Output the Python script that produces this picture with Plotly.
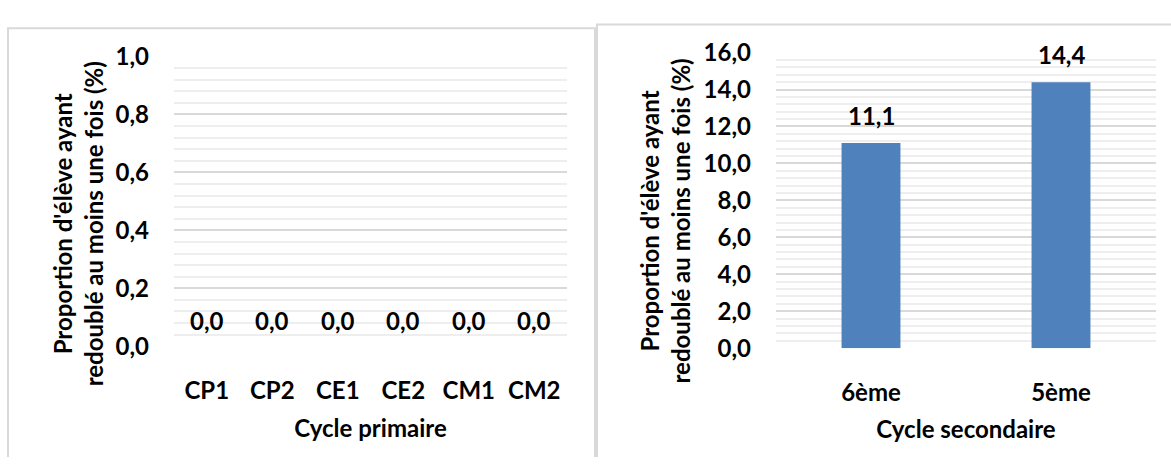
import plotly.graph_objects as go

# Data
primaire_classes = ["CP1", "CP2", "CE1", "CE2", "CM1", "CM2"]
primaire_values = [0.0, 0.0, 0.0, 0.0, 0.0, 0.0]

secondaire_classes = ["6ème", "5ème"]
secondaire_values = [11.1, 14.4]

y_title_lines = ["Proportion d'élève ayant", "redoublé au moins une fois (%)"]
x_title_primaire = "Cycle primaire"
x_title_secondaire = "Cycle secondaire"

W, H = 1171, 470
FONT = "Lato"
BLUE = "#4f81bd"
MAJOR = "#d9d9d9"
MINOR = "#eeeeee"
SIZE = 24


def px_x(v):
    return v / W


def px_y(v):
    return 1 - v / H


def fmt(v):
    return f"{v:.1f}".replace(".", ",")


text_font = dict(family=FONT, size=SIZE, color="#000000", weight="bold")

fig = go.Figure()

fig.add_trace(go.Bar(
    x=primaire_classes, y=primaire_values,
    marker=dict(color=BLUE, line=dict(width=0)),
    xaxis="x", yaxis="y", showlegend=False, hoverinfo="skip",
))
fig.add_trace(go.Bar(
    x=secondaire_classes, y=secondaire_values,
    marker=dict(color=BLUE, line=dict(width=0)),
    xaxis="x2", yaxis="y2", showlegend=False, hoverinfo="skip",
))

annotations = []

# Value labels above each bar
for cat, val in zip(primaire_classes, primaire_values):
    annotations.append(dict(x=cat, y=val, xref="x", yref="y", text=fmt(val),
                            showarrow=False, yanchor="middle", yshift=26,
                            font=text_font))
for cat, val in zip(secondaire_classes, secondaire_values):
    annotations.append(dict(x=cat, y=val, xref="x2", yref="y2", text=fmt(val),
                            showarrow=False, yanchor="middle", yshift=28,
                            font=text_font))

# Rotated two-line y-axis titles, one line per annotation
for (cx1, cx2, cy) in [(62, 93, 222), (649, 680, 219)]:
    for line, cx in zip(y_title_lines, (cx1, cx2)):
        annotations.append(dict(x=px_x(cx), y=px_y(cy), xref="paper", yref="paper",
                                text=line, textangle=-90, showarrow=False,
                                xanchor="center", yanchor="middle", font=text_font))

common_y = dict(
    showline=False, zeroline=False,
    gridcolor=MAJOR, gridwidth=2,
    tickformat=".1f", tickfont=text_font,
    ticks="", ticklabelstandoff=24,
)
common_x = dict(
    showline=False, zeroline=False, showgrid=False,
    tickfont=text_font, ticks="", ticklabelstandoff=28,
)

fig.update_layout(
    width=W, height=H,
    margin=dict(l=0, r=0, t=0, b=0),
    paper_bgcolor="white", plot_bgcolor="white",
    separators=", ",
    font=dict(family=FONT, color="#000000"),
    bargap=0.69,
    xaxis=dict(domain=[px_x(174), px_x(567)], anchor="y",
               title=dict(text=x_title_primaire, font=text_font, standoff=16),
               **common_x),
    yaxis=dict(domain=[px_y(352), px_y(43)], range=[0, 1], dtick=0.2,
               minor=dict(dtick=0.04, showgrid=True, gridcolor=MINOR, gridwidth=2),
               anchor="x", **common_y),
    xaxis2=dict(domain=[px_x(776), px_x(1156)], anchor="y2",
                title=dict(text=x_title_secondaire, font=text_font, standoff=16),
                **common_x),
    yaxis2=dict(domain=[px_y(354), px_y(39)], range=[0, 16], dtick=2,
                minor=dict(dtick=0.4, showgrid=True, gridcolor=MINOR, gridwidth=2),
                anchor="x2", **common_y),
    annotations=annotations,
    shapes=[
        # Chart-area frames (open at the bottom edge of the page)
        dict(type="path", xref="paper", yref="paper",
             path=f"M {px_x(8)},0 L {px_x(8)},{px_y(13)} L {px_x(595)},{px_y(13)} L {px_x(595)},0",
             line=dict(color=MAJOR, width=2)),
        dict(type="path", xref="paper", yref="paper",
             path=f"M {px_x(597)},0 L {px_x(597)},{px_y(9)} L {px_x(1171)},{px_y(9)}",
             line=dict(color=MAJOR, width=2)),
    ],
)

fig.write_html("out.html")
